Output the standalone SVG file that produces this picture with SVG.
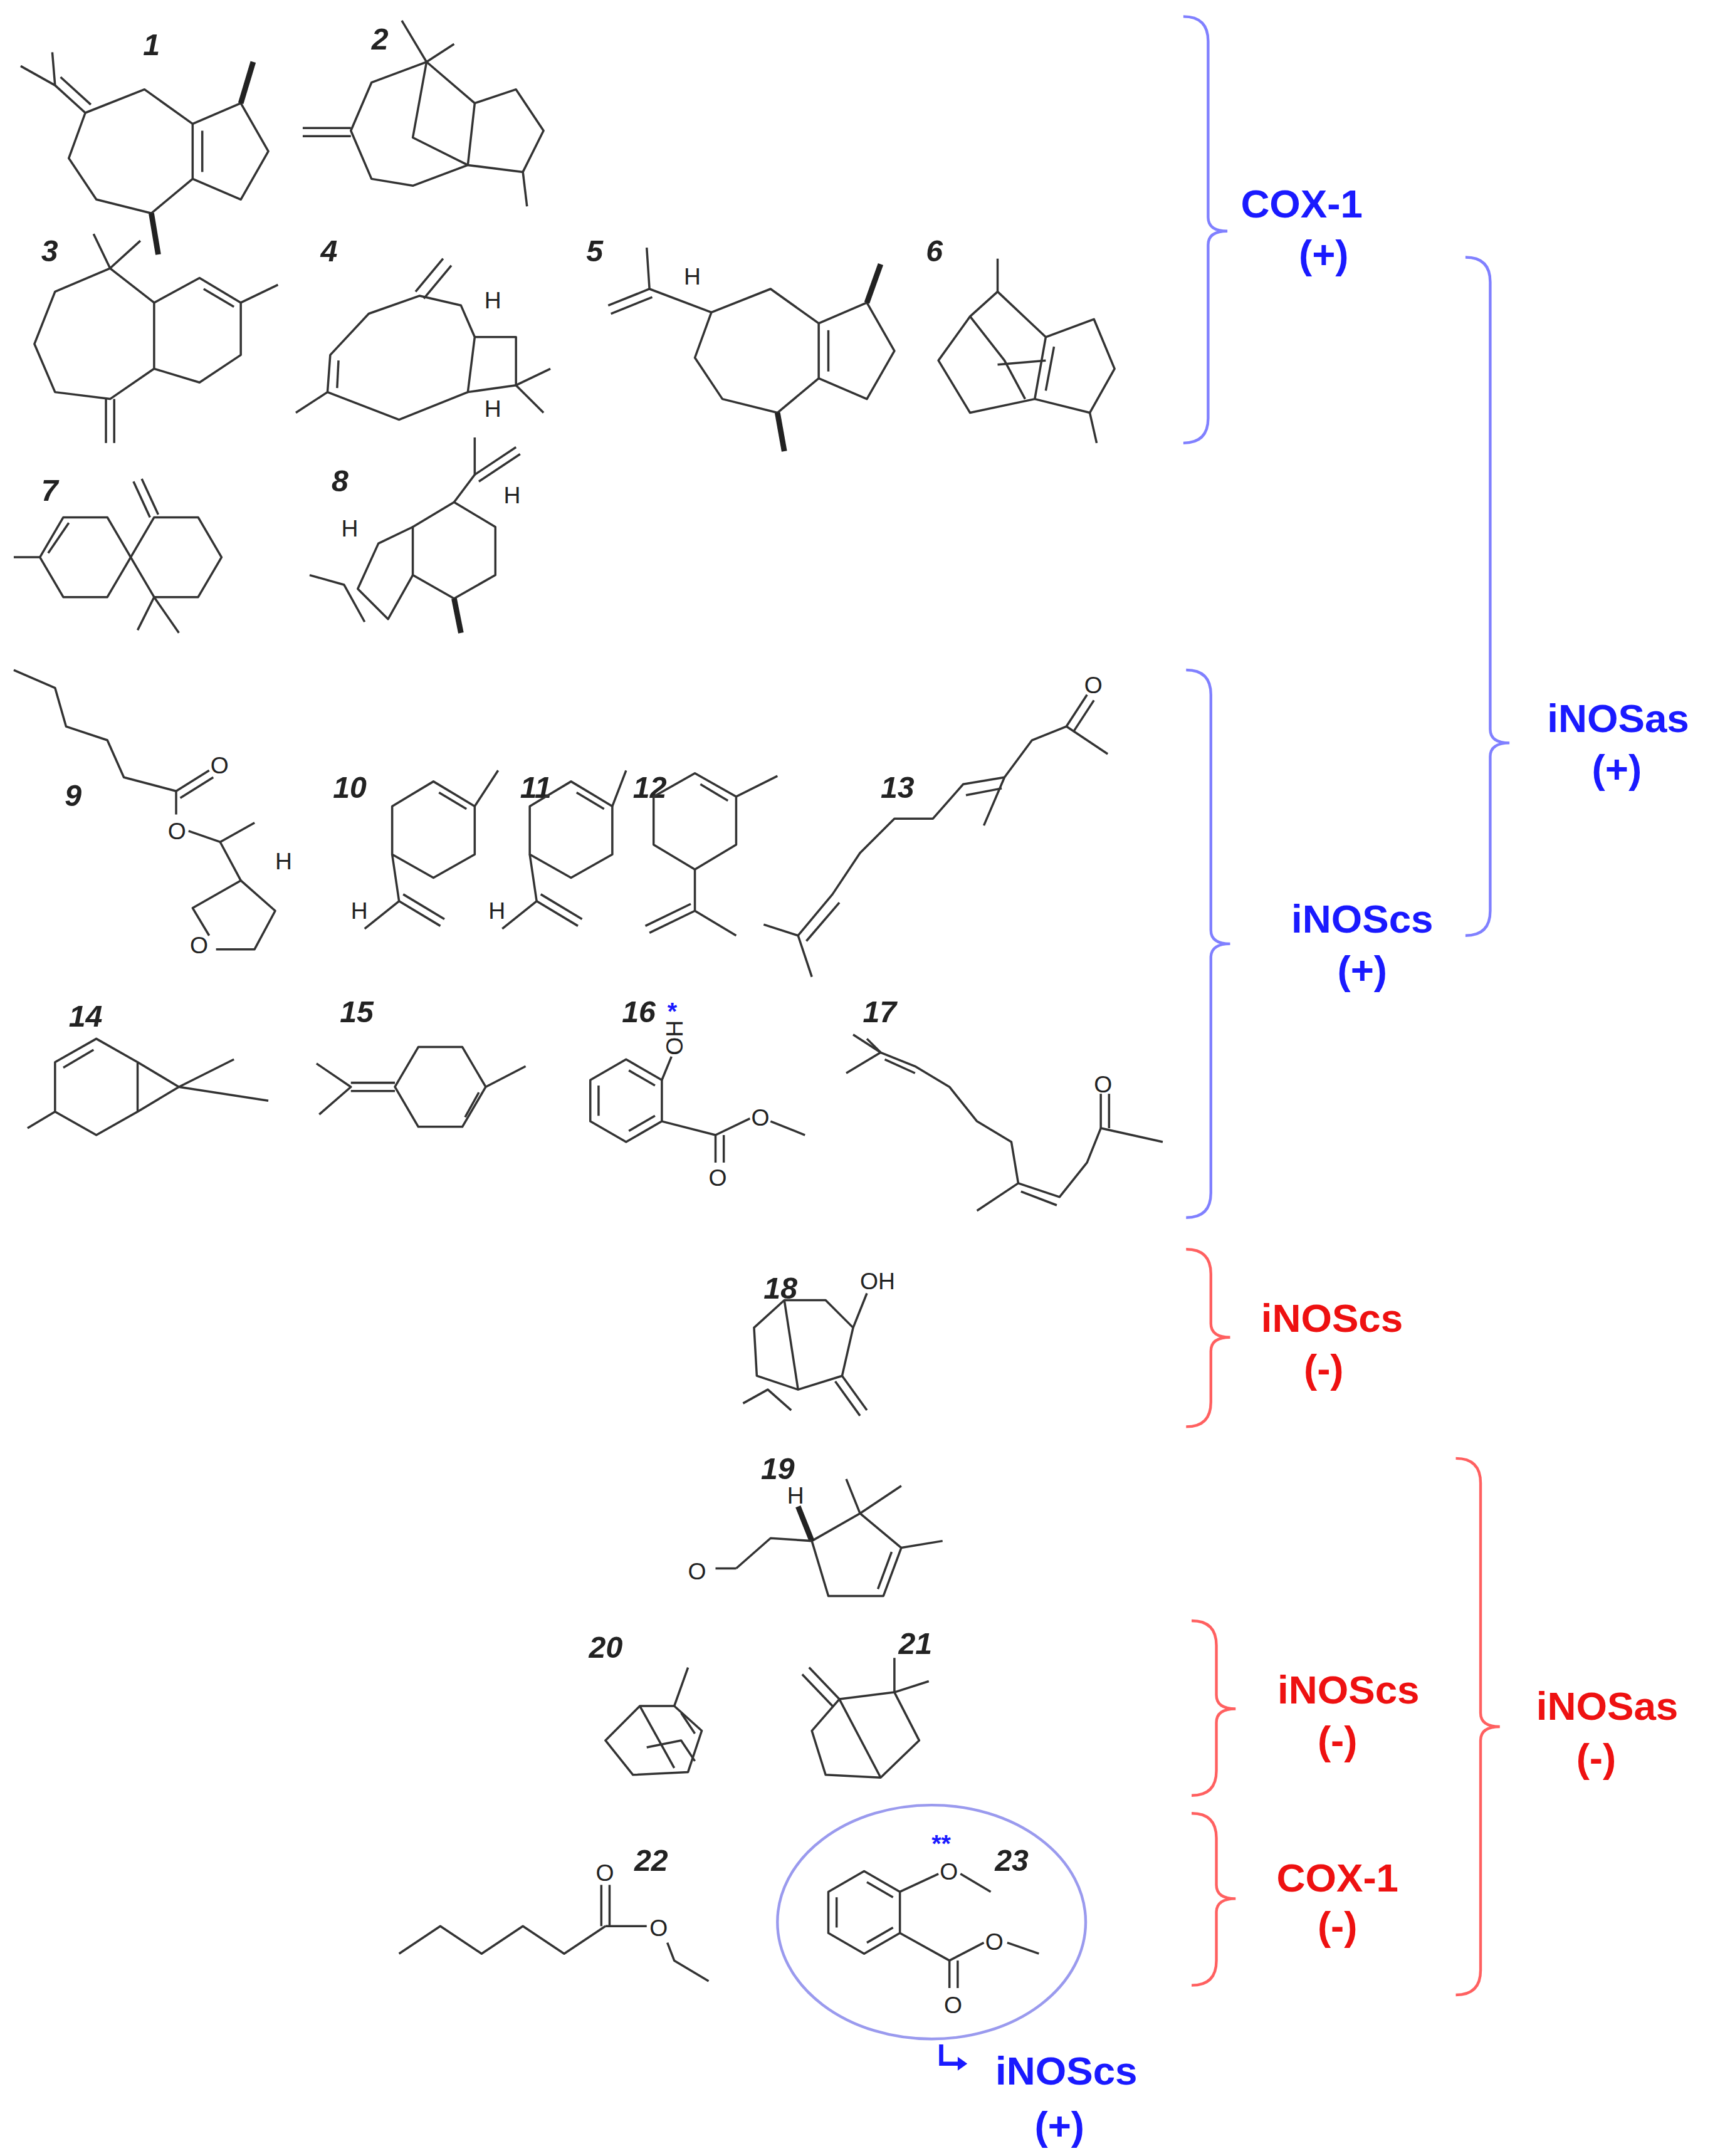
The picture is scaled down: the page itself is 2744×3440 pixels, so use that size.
<svg xmlns="http://www.w3.org/2000/svg" width="2744" height="3440" viewBox="0 0 2744 3440">
<style>
.b{fill:none;stroke:#333;stroke-width:1.6;stroke-linejoin:round}
.w{fill:none;stroke:#222;stroke-width:4}
.n{font-family:"Liberation Sans",Arial,sans-serif;font-size:22px;font-weight:bold;font-style:italic;fill:#222}
.a{font-family:"Liberation Sans",Arial,sans-serif;font-size:17px;fill:#222}
.lb{font-family:"Liberation Sans",Arial,sans-serif;font-size:29px;font-weight:bold;fill:#1a1aff;text-anchor:middle}
.lr{font-family:"Liberation Sans",Arial,sans-serif;font-size:29px;font-weight:bold;fill:#ee1111;text-anchor:middle}
.bb{fill:none;stroke:#8080ff;stroke-width:2}
.br{fill:none;stroke:#ff6060;stroke-width:2}
</style>
<defs>
<g id="az">
<polygon class="b" points="62,82 105,65 140,90 140,130 110,155 70,145 50,115"/>
<polyline class="b" points="140,90 175,75 195,110 175,145 140,130"/>
<line class="b" x1="147" y1="95" x2="147" y2="125"/>
</g>
</defs>
<rect width="2744" height="3440" fill="#fff"/>
<g transform="scale(2.1952)">
<g id="brackets">
<path class="bb" d="M860,12 Q878,12 878,30 L878,158 Q878,168 892,168 Q878,168 878,178 L878,304 Q878,322 860,322"/>
<path class="bb" d="M1065,187 Q1083,187 1083,205 L1083,530 Q1083,540 1097,540 Q1083,540 1083,550 L1083,662 Q1083,680 1065,680"/>
<path class="bb" d="M862,487 Q880,487 880,505 L880,676 Q880,686 894,686 Q880,686 880,696 L880,867 Q880,885 862,885"/>
<path class="br" d="M862,908 Q880,908 880,926 L880,962 Q880,972 894,972 Q880,972 880,982 L880,1019 Q880,1037 862,1037"/>
<path class="br" d="M1058,1060 Q1076,1060 1076,1078 L1076,1245 Q1076,1255 1090,1255 Q1076,1255 1076,1265 L1076,1432 Q1076,1450 1058,1450"/>
<path class="br" d="M866,1178 Q884,1178 884,1196 L884,1232 Q884,1242 898,1242 Q884,1242 884,1252 L884,1287 Q884,1305 866,1305"/>
<path class="br" d="M866,1318 Q884,1318 884,1336 L884,1370 Q884,1380 898,1380 Q884,1380 884,1390 L884,1425 Q884,1443 866,1443"/>
<ellipse cx="677" cy="1397" rx="112" ry="85" fill="none" stroke="#9a9aee" stroke-width="2"/>
</g>
<g id="labels">
<text class="lb" x="946" y="158">COX-1</text><text class="lb" x="962" y="195">(+)</text>
<text class="lb" x="1176" y="532">iNOSas</text><text class="lb" x="1175" y="569">(+)</text>
<text class="lb" x="990" y="678">iNOScs</text><text class="lb" x="990" y="715">(+)</text>
<text class="lr" x="968" y="968">iNOScs</text><text class="lr" x="962" y="1005">(-)</text>
<text class="lr" x="1168" y="1250">iNOSas</text><text class="lr" x="1160" y="1288">(-)</text>
<text class="lr" x="980" y="1238">iNOScs</text><text class="lr" x="972" y="1275">(-)</text>
<text class="lr" x="972" y="1375">COX-1</text><text class="lr" x="972" y="1410">(-)</text>
<text class="lb" x="775" y="1515">iNOScs</text><text class="lb" x="770" y="1555">(+)</text>
<path d="M684,1486 L684,1500 L700,1500" fill="none" stroke="#1a1aff" stroke-width="3"/>
<path d="M696,1495 L703,1500 L696,1505 Z" fill="#1a1aff"/>
</g>
<g id="numbers">
<text class="n" x="104" y="40">1</text><text class="n" x="270" y="36">2</text><text class="n" x="30" y="190">3</text><text class="n" x="233" y="190">4</text><text class="n" x="426" y="190">5</text><text class="n" x="673" y="190">6</text><text class="n" x="30" y="364">7</text><text class="n" x="241" y="357">8</text><text class="n" x="47" y="586">9</text><text class="n" x="242" y="580">10</text><text class="n" x="378" y="580">11</text><text class="n" x="460" y="580">12</text><text class="n" x="640" y="580">13</text><text class="n" x="50" y="746">14</text><text class="n" x="247" y="743">15</text><text class="n" x="452" y="743">16</text><text class="n" x="627" y="743">17</text><text class="n" x="555" y="944">18</text><text class="n" x="553" y="1075">19</text><text class="n" x="428" y="1205">20</text><text class="n" x="653" y="1202">21</text><text class="n" x="461" y="1360">22</text><text class="n" x="723" y="1360">23</text>
</g>
<g id="m1"><use href="#az"/><line class="w" x1="175" y1="75" x2="184" y2="45"/><line class="w" x1="110" y1="155" x2="115" y2="185"/><line class="b" x1="62" y1="82" x2="40" y2="62"/><line class="b" x1="66" y1="76" x2="44" y2="56"/><polyline class="b" points="15,48 40,62 38,38"/></g>
<g id="m2"><polygon class="b" points="255,95 270,60 310,45 345,75 340,120 300,135 270,130"/><polyline class="b" points="310,45 300,100 340,120"/><polyline class="b" points="345,75 375,65 395,95 380,125 340,120"/><line class="b" x1="380" y1="125" x2="383" y2="150"/><polyline class="b" points="292,15 310,45 330,32"/><line class="b" x1="220" y1="93" x2="255" y2="93"/><line class="b" x1="220" y1="99" x2="255" y2="99"/></g>
<g id="m3"><polygon class="b" points="25,250 40,212 80,195 112,220 112,268 80,290 40,285"/><polyline class="b" points="112,220 145,202 175,220 175,258 145,278 112,268"/><line class="b" x1="148" y1="210" x2="170" y2="223"/><line class="b" x1="175" y1="220" x2="202" y2="207"/><polyline class="b" points="68,170 80,195 102,175"/><line class="b" x1="77" y1="290" x2="77" y2="322"/><line class="b" x1="83" y1="290" x2="83" y2="322"/></g>
<g id="m4"><polygon class="b" points="305,215 268,228 240,258 238,285 290,305 340,285 345,245 335,222"/><polyline class="b" points="345,245 375,245 375,280 340,285"/><line class="b" x1="246" y1="262" x2="245" y2="282"/><line class="b" x1="238" y1="285" x2="215" y2="300"/><line class="b" x1="302" y1="212" x2="322" y2="188"/><line class="b" x1="308" y1="217" x2="328" y2="193"/><polyline class="b" points="400,268 375,280 395,300"/><text class="a" x="352" y="224">H</text><text class="a" x="352" y="303">H</text></g>
<g id="m5"><use href="#az" transform="translate(455,145)"/><line class="w" x1="630" y1="220" x2="640" y2="192"/><line class="w" x1="565" y1="300" x2="570" y2="328"/><polyline class="b" points="470,180 472,210 517,227"/><line class="b" x1="472" y1="210" x2="442" y2="222"/><line class="b" x1="474" y1="216" x2="444" y2="228"/><text class="a" x="497" y="207">H</text></g>
<g id="m6"><polygon class="b" points="705,230 725,212 760,245 752,290 705,300 682,262"/><polyline class="b" points="760,245 795,232 810,268 792,300 752,290"/><line class="b" x1="766" y1="252" x2="760" y2="284"/><line class="b" x1="725" y1="212" x2="725" y2="188"/><polyline class="b" points="705,230 730,262 745,290"/><line class="b" x1="725" y1="265" x2="760" y2="262"/><line class="b" x1="792" y1="300" x2="797" y2="322"/></g>
<g id="m7"><polygon class="b" points="95,405 78,434 46,434 29,405 46,376 78,376"/><line class="b" x1="35" y1="402" x2="50" y2="380"/><line class="b" x1="29" y1="405" x2="10" y2="405"/><polygon class="b" points="161,405 144,434 112,434 95,405 112,376 144,376"/><line class="b" x1="109" y1="376" x2="97" y2="350"/><line class="b" x1="115" y1="374" x2="103" y2="348"/><polyline class="b" points="100,458 112,434 130,460"/></g>
<g id="m8"><polygon class="b" points="330,365 360,383 360,418 330,435 300,418 300,383"/><polyline class="b" points="300,383 275,395 260,428 282,450 300,418"/><line class="w" x1="330" y1="435" x2="335" y2="460"/><polyline class="b" points="330,365 345,345 345,318"/><line class="b" x1="345" y1="345" x2="375" y2="325"/><line class="b" x1="348" y1="350" x2="378" y2="330"/><polyline class="b" points="225,418 250,425 265,452"/><text class="a" x="366" y="366">H</text><text class="a" x="248" y="390">H</text></g>
<g id="m9"><polyline class="b" points="10,487 40,500 48,528 78,538 90,565 128,575"/><line class="b" x1="128" y1="575" x2="152" y2="560"/><line class="b" x1="131" y1="580" x2="155" y2="565"/><text class="a" x="153" y="562">O</text><line class="b" x1="128" y1="575" x2="128" y2="592"/><text class="a" x="122" y="610">O</text><polyline class="b" points="137,604 160,612 185,598"/><line class="b" x1="160" y1="612" x2="175" y2="640"/><polyline class="b" points="152,680 140,660 175,640 200,662 185,690 157,690"/><text class="a" x="138" y="693">O</text><text class="a" x="200" y="632">H</text></g>
<g id="m10"><polygon class="b" points="315,568 345,586 345,621 315,638 285,621 285,586"/><line class="b" x1="319" y1="576" x2="339" y2="588"/><line class="b" x1="345" y1="586" x2="362" y2="560"/><polyline class="b" points="285,621 290,655 265,675"/><line class="b" x1="290" y1="655" x2="320" y2="673"/><line class="b" x1="293" y1="650" x2="323" y2="668"/><text class="a" x="255" y="668">H</text></g>
<g id="m11"><polygon class="b" points="415,568 445,586 445,621 415,638 385,621 385,586"/><line class="b" x1="419" y1="576" x2="439" y2="588"/><line class="b" x1="445" y1="586" x2="455" y2="560"/><polyline class="b" points="385,621 390,655 365,675"/><line class="b" x1="390" y1="655" x2="420" y2="673"/><line class="b" x1="393" y1="650" x2="423" y2="668"/><text class="a" x="355" y="668">H</text></g>
<g id="m12"><polygon class="b" points="505,562 535,579 535,614 505,632 475,614 475,579"/><line class="b" x1="509" y1="570" x2="529" y2="582"/><line class="b" x1="535" y1="579" x2="565" y2="564"/><polyline class="b" points="505,632 505,662 535,680"/><line class="b" x1="505" y1="662" x2="472" y2="678"/><line class="b" x1="502" y1="657" x2="469" y2="673"/></g>
<g id="m13"><polyline class="b" points="805,548 775,528 750,538 730,565 715,600"/><line class="b" x1="775" y1="528" x2="790" y2="505"/><line class="b" x1="780" y1="532" x2="795" y2="509"/><text class="a" x="788" y="504">O</text><polyline class="b" points="730,565 700,570 678,595 650,595 625,620 605,650 580,680 555,672"/><line class="b" x1="702" y1="578" x2="728" y2="573"/><line class="b" x1="610" y1="656" x2="586" y2="684"/><line class="b" x1="580" y1="680" x2="590" y2="710"/></g>
<g id="m14"><polygon class="b" points="70,755 100,772 100,808 70,825 40,808 40,772"/><line class="b" x1="46" y1="776" x2="68" y2="763"/><line class="b" x1="40" y1="808" x2="20" y2="820"/><polyline class="b" points="100,772 130,790 100,808"/><polyline class="b" points="170,770 130,790 195,800"/></g>
<g id="m15"><polygon class="b" points="353,790 336,819 304,819 287,790 304,761 336,761"/><line class="b" x1="338" y1="812" x2="348" y2="794"/><line class="b" x1="353" y1="790" x2="382" y2="775"/><line class="b" x1="287" y1="787" x2="255" y2="787"/><line class="b" x1="287" y1="793" x2="255" y2="793"/><polyline class="b" points="230,773 255,790 232,810"/></g>
<g id="m16"><polygon class="b" points="455,770 481,785 481,815 455,830 429,815 429,785"/><line class="b" x1="435" y1="789" x2="435" y2="811"/><line class="b" x1="457" y1="822" x2="476" y2="811"/><line class="b" x1="457" y1="778" x2="476" y2="789"/><line class="b" x1="481" y1="785" x2="488" y2="768"/><text class="a" transform="translate(496,767) rotate(-90)">OH</text><text x="485" y="741" font-family="Liberation Sans,sans-serif" font-size="18" fill="#1a1aff" font-weight="bold">*</text><polyline class="b" points="481,815 520,825 520,845"/><line class="b" x1="526" y1="825" x2="526" y2="845"/><text class="a" x="515" y="862">O</text><line class="b" x1="520" y1="825" x2="545" y2="813"/><text class="a" x="546" y="818">O</text><line class="b" x1="560" y1="815" x2="585" y2="825"/></g>
<g id="m17"><polyline class="b" points="615,780 640,765 665,775 690,790 710,815 735,830 740,860 710,880"/><line class="b" x1="640" y1="765" x2="630" y2="755"/><line class="b" x1="640" y1="765" x2="620" y2="752"/><line class="b" x1="643" y1="770" x2="665" y2="780"/><polyline class="b" points="740,860 770,870 790,845 800,820 845,830"/><line class="b" x1="742" y1="866" x2="768" y2="876"/><line class="b" x1="800" y1="820" x2="800" y2="795"/><line class="b" x1="806" y1="820" x2="806" y2="795"/><text class="a" x="795" y="794">O</text></g>
<g id="m18"><polygon class="b" points="548,965 570,945 600,945 620,965 612,1000 580,1010 550,1000"/><line class="b" x1="570" y1="945" x2="580" y2="1010"/><line class="b" x1="620" y1="965" x2="630" y2="940"/><text class="a" x="625" y="937">OH</text><polyline class="b" points="540,1020 558,1010 575,1025"/><line class="b" x1="612" y1="1000" x2="630" y2="1025"/><line class="b" x1="607" y1="1004" x2="625" y2="1029"/></g>
<g id="m19"><polygon class="b" points="590,1120 625,1100 655,1125 642,1160 602,1160"/><line class="b" x1="648" y1="1128" x2="638" y2="1155"/><line class="b" x1="655" y1="1125" x2="685" y2="1120"/><polyline class="b" points="615,1075 625,1100 655,1080"/><line class="w" x1="590" y1="1120" x2="580" y2="1095"/><text class="a" x="572" y="1093">H</text><polyline class="b" points="590,1120 560,1118 535,1140"/><line class="b" x1="520" y1="1140" x2="535" y2="1140"/><text class="a" x="500" y="1148">O</text></g>
<g id="m20"><polygon class="b" points="490,1240 510,1258 500,1288 460,1290 440,1265 465,1240"/><line class="b" x1="465" y1="1240" x2="490" y2="1285"/><line class="b" x1="490" y1="1240" x2="500" y2="1212"/><line class="b" x1="495" y1="1245" x2="505" y2="1260"/><polyline class="b" points="470,1270 495,1265 505,1280"/></g>
<g id="m21"><polygon class="b" points="610,1235 650,1230 668,1265 640,1292 600,1290 590,1258"/><line class="b" x1="610" y1="1235" x2="640" y2="1292"/><polyline class="b" points="650,1205 650,1230 675,1222"/><line class="b" x1="610" y1="1235" x2="588" y2="1212"/><line class="b" x1="605" y1="1240" x2="583" y2="1217"/></g>
<g id="m22"><polyline class="b" points="290,1420 320,1400 350,1420 380,1400 410,1420 440,1400"/><line class="b" x1="437" y1="1400" x2="437" y2="1370"/><line class="b" x1="443" y1="1400" x2="443" y2="1370"/><text class="a" x="433" y="1367">O</text><line class="b" x1="440" y1="1400" x2="470" y2="1400"/><text class="a" x="472" y="1407">O</text><polyline class="b" points="485,1412 490,1425 515,1440"/></g>
<g id="m23"><polygon class="b" points="628,1360 654,1375 654,1405 628,1420 602,1405 602,1375"/><line class="b" x1="608" y1="1379" x2="608" y2="1401"/><line class="b" x1="630" y1="1412" x2="649" y2="1401"/><line class="b" x1="630" y1="1368" x2="649" y2="1379"/><line class="b" x1="654" y1="1375" x2="682" y2="1362"/><text class="a" x="683" y="1366">O</text><line class="b" x1="698" y1="1362" x2="720" y2="1375"/><text x="677" y="1346" font-family="Liberation Sans,sans-serif" font-size="18" fill="#1a1aff" font-weight="bold">**</text><polyline class="b" points="654,1405 690,1425 690,1445"/><line class="b" x1="696" y1="1425" x2="696" y2="1445"/><text class="a" x="686" y="1463">O</text><line class="b" x1="690" y1="1425" x2="715" y2="1412"/><text class="a" x="716" y="1417">O</text><line class="b" x1="732" y1="1412" x2="755" y2="1420"/></g>
</g>
</svg>
